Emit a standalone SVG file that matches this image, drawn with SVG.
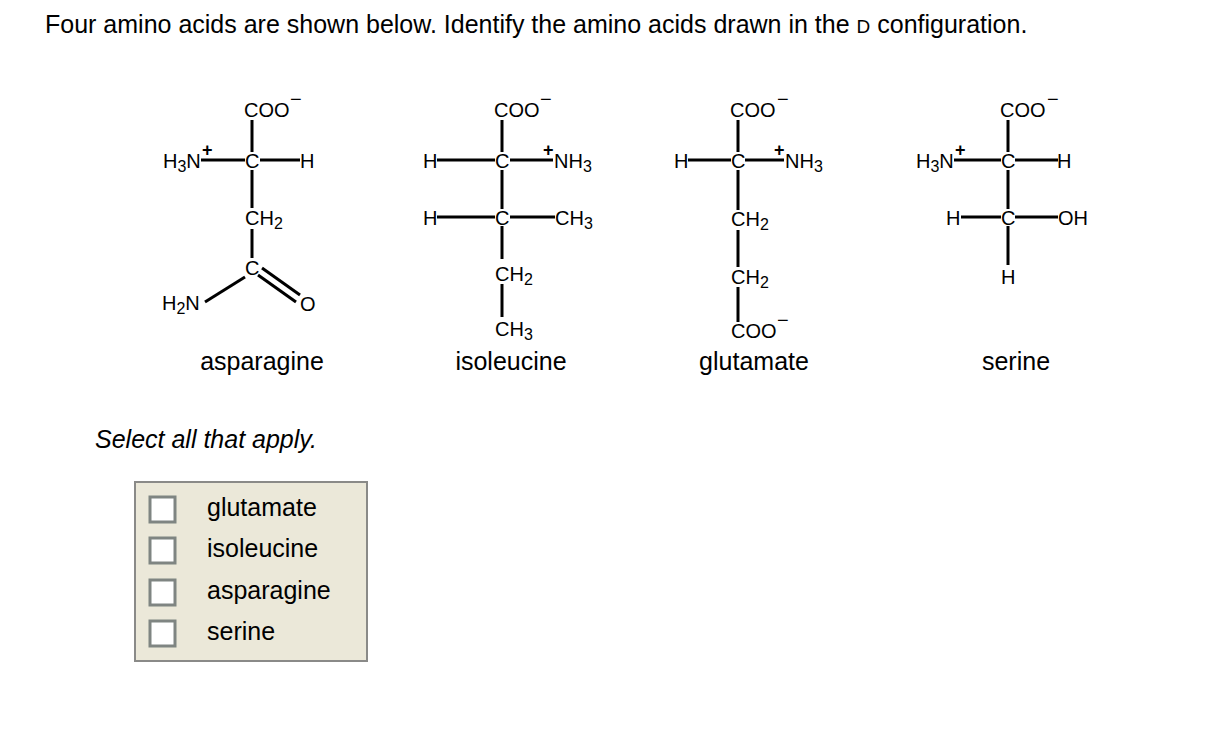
<svg xmlns="http://www.w3.org/2000/svg" width="1214" height="754" viewBox="0 0 1214 754">
<style>
text{font-family:"Liberation Sans",Arial,sans-serif;fill:#000}
.t{font-size:25px}
.c{font-size:20px}
.s{font-size:16px}
.p{font-size:18px;font-weight:bold}
.b line,.b path{stroke:#000;stroke-width:3;fill:none}
.cb{fill:#fff;stroke:#7f8582;stroke-width:3}
</style>
<rect width="1214" height="754" fill="#fff"/>
<text class="t" x="45" y="33">Four amino acids are shown below. Identify the amino acids drawn in the <tspan font-size="19">D</tspan> configuration.</text>
<g id="connectors" class="b">
<line x1="252" y1="120" x2="252" y2="152"/><line x1="201" y1="160" x2="245" y2="160"/><line x1="260" y1="160" x2="300" y2="160"/>
<line x1="252" y1="170" x2="252" y2="208"/><line x1="252" y1="229" x2="252" y2="258"/>
<line x1="205" y1="302" x2="245" y2="277"/><line x1="262" y1="268" x2="300" y2="295"/><line x1="258" y1="275" x2="296" y2="302"/>
<line x1="502" y1="120" x2="502" y2="152"/><line x1="437" y1="160" x2="495" y2="160"/><line x1="510" y1="160" x2="553" y2="160"/>
<line x1="502" y1="170" x2="502" y2="209"/><line x1="437" y1="217" x2="495" y2="217"/><line x1="510" y1="217" x2="555" y2="217"/>
<line x1="502" y1="226" x2="502" y2="259"/><line x1="502" y1="284" x2="502" y2="317"/>
<line x1="738" y1="120" x2="738" y2="152"/><line x1="688" y1="160" x2="731" y2="160"/><line x1="745" y1="160" x2="784" y2="160"/>
<line x1="738" y1="170" x2="738" y2="210"/><line x1="738" y1="230" x2="738" y2="267"/><line x1="738" y1="287" x2="738" y2="322"/>
<line x1="1008" y1="120" x2="1008" y2="152"/><line x1="954" y1="160" x2="1001" y2="160"/><line x1="1015" y1="160" x2="1058" y2="160"/>
<line x1="1008" y1="170" x2="1008" y2="209"/><line x1="961" y1="217" x2="1001" y2="217"/><line x1="1015" y1="217" x2="1058" y2="217"/>
<line x1="1008" y1="226" x2="1008" y2="265"/>
</g>
<g id="asparagine">
<text class="c" x="244" y="117">COO</text><text class="c" x="290" y="106">−</text>
<text class="p" x="202" y="156">+</text>
<text class="c" x="163" y="168">H<tspan class="s" dy="4">3</tspan><tspan dy="-4">N</tspan></text>
<text class="c" x="245" y="168">C</text><text class="c" x="300" y="168">H</text>
<text class="c" x="245" y="225">CH<tspan class="s" dy="4">2</tspan></text>
<text class="c" x="245" y="275">C</text>
<text class="c" x="162" y="310">H<tspan class="s" dy="4">2</tspan><tspan dy="-4">N</tspan></text>
<text class="c" x="300" y="311">O</text>
<text class="t" x="262" y="370" text-anchor="middle">asparagine</text>
</g>
<g id="isoleucine">
<text class="c" x="494" y="117">COO</text><text class="c" x="540" y="106">−</text>
<text class="c" x="423" y="168">H</text><text class="c" x="495" y="168">C</text>
<text class="p" x="543" y="156">+</text>
<text class="c" x="554" y="168">NH<tspan class="s" dy="4">3</tspan></text>
<text class="c" x="423" y="225">H</text><text class="c" x="495" y="225">C</text>
<text class="c" x="555" y="225">CH<tspan class="s" dy="4">3</tspan></text>
<text class="c" x="495" y="281">CH<tspan class="s" dy="4">2</tspan></text>
<text class="c" x="495" y="336">CH<tspan class="s" dy="4">3</tspan></text>
<text class="t" x="511" y="370" text-anchor="middle">isoleucine</text>
</g>
<g id="glutamate">
<text class="c" x="730" y="117">COO</text><text class="c" x="777" y="106">−</text>
<text class="c" x="674" y="168">H</text><text class="c" x="731" y="168">C</text>
<text class="p" x="774" y="156">+</text>
<text class="c" x="785" y="168">NH<tspan class="s" dy="4">3</tspan></text>
<text class="c" x="731" y="226">CH<tspan class="s" dy="4">2</tspan></text>
<text class="c" x="731" y="284">CH<tspan class="s" dy="4">2</tspan></text>
<text class="c" x="731" y="338">COO</text><text class="c" x="777" y="327">−</text>
<text class="t" x="754" y="370" text-anchor="middle">glutamate</text>
</g>
<g id="serine">
<text class="c" x="1000" y="117">COO</text><text class="c" x="1047" y="106">−</text>
<text class="p" x="955" y="156">+</text>
<text class="c" x="916" y="168">H<tspan class="s" dy="4">3</tspan><tspan dy="-4">N</tspan></text>
<text class="c" x="1001" y="168">C</text><text class="c" x="1057" y="168">H</text>
<text class="c" x="946" y="225">H</text><text class="c" x="1001" y="225">C</text><text class="c" x="1058" y="225">OH</text>
<text class="c" x="1001" y="284">H</text>
<text class="t" x="1016" y="370" text-anchor="middle">serine</text>
</g>
<text class="t" x="95" y="448" font-style="italic">Select all that apply.</text>
<g id="choices">
<rect x="135" y="482" width="232" height="179" fill="#ebe8d9" stroke="#8a8a88" stroke-width="2"/>
<rect class="cb" x="150" y="497" width="25" height="25"/>
<rect class="cb" x="150" y="538" width="25" height="25"/>
<rect class="cb" x="150" y="580" width="25" height="25"/>
<rect class="cb" x="150" y="621" width="25" height="25"/>
<text class="t" x="207" y="516">glutamate</text>
<text class="t" x="207" y="557">isoleucine</text>
<text class="t" x="207" y="599">asparagine</text>
<text class="t" x="207" y="640">serine</text>
</g>
</svg>
